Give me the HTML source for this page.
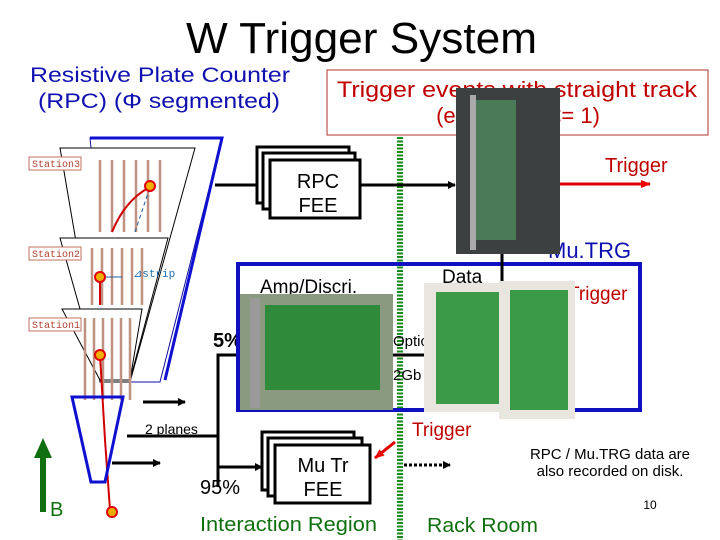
<!DOCTYPE html>
<html><head><meta charset="utf-8"><style>
body{margin:0;background:#fff}
svg{display:block;font-family:"Liberation Sans",sans-serif}
</style></head><body>
<svg width="720" height="540" viewBox="0 0 720 540" xmlns="http://www.w3.org/2000/svg">
<defs>
<marker id="ab" markerWidth="8" markerHeight="8" refX="7" refY="4" orient="auto" markerUnits="userSpaceOnUse"><path d="M0,0 L8,4 L0,8z" fill="#000"/></marker>
<marker id="ar" markerWidth="10" markerHeight="10" refX="9" refY="5" orient="auto" markerUnits="userSpaceOnUse"><path d="M0,1 L10,5 L0,9z" fill="#e00"/></marker>
</defs>
<text x="186" y="53" font-size="44" textLength="351" lengthAdjust="spacingAndGlyphs">W Trigger System</text>
<text x="30" y="82" font-size="21" fill="#1010b0" textLength="260" lengthAdjust="spacingAndGlyphs">Resistive Plate Counter</text>
<text x="38" y="108" font-size="21" fill="#1010b0" textLength="242" lengthAdjust="spacingAndGlyphs">(RPC) (Φ segmented)</text>
<rect x="327" y="70" width="381" height="65" fill="none" stroke="#b03030" stroke-width="1"/>
<text x="337" y="97" font-size="22" fill="#c00000" textLength="360" lengthAdjust="spacingAndGlyphs">Trigger events with straight track</text>
<text x="518" y="123" font-size="22" fill="#c00000" text-anchor="middle">(e.g. Δstrip &lt;= 1)</text>
<line x1="400" y1="137" x2="400" y2="540" stroke="#1a8a1a" stroke-width="6" stroke-dasharray="2,1.5"/>
<polygon points="90,138 222,138 160,382 115,382" fill="none" stroke="#1010a0" stroke-width="1"/>
<path d="M90,138 L222,138 L165,380" fill="none" stroke="#1010d0" stroke-width="3"/>
<polygon points="60,148 195,148 130,382 100,382" fill="#fff" stroke="#000" stroke-width="1"/>
<polygon points="60,238 168,238 130,380 100,380" fill="#fff" stroke="#000" stroke-width="1"/>
<polygon points="62,309 142,309 130,380 100,380" fill="#fff" stroke="#000" stroke-width="1"/>
<g stroke="#c09080" stroke-width="2.5">
<line x1="100" y1="160" x2="100" y2="232"/><line x1="112" y1="160" x2="112" y2="232"/><line x1="124" y1="160" x2="124" y2="232"/><line x1="136" y1="160" x2="136" y2="232"/><line x1="148" y1="160" x2="148" y2="232"/><line x1="160" y1="160" x2="160" y2="232"/>
<line x1="92" y1="248" x2="92" y2="305"/><line x1="102" y1="248" x2="102" y2="305"/><line x1="112" y1="248" x2="112" y2="305"/><line x1="122" y1="248" x2="122" y2="305"/><line x1="132" y1="248" x2="132" y2="305"/><line x1="142" y1="248" x2="142" y2="305"/>
<line x1="85" y1="318" x2="85" y2="400"/><line x1="94" y1="318" x2="94" y2="400"/><line x1="103" y1="318" x2="103" y2="400"/><line x1="112" y1="318" x2="112" y2="400"/><line x1="121" y1="318" x2="121" y2="400"/><line x1="130" y1="318" x2="130" y2="400"/>
</g>
<g font-size="10" fill="#b04030" font-family="Liberation Mono,monospace">
<rect x="29" y="157" width="52" height="13" fill="#fff" stroke="#c07060"/><text x="32" y="167">Station3</text>
<rect x="29" y="247" width="52" height="13" fill="#fff" stroke="#c07060"/><text x="32" y="257">Station2</text>
<rect x="29" y="318" width="52" height="13" fill="#fff" stroke="#c07060"/><text x="32" y="328">Station1</text>
</g>
<path d="M112,232 Q125,200 150,187" stroke="#d00000" stroke-width="2" fill="none"/>
<line x1="135" y1="232" x2="150" y2="187" stroke="#2060a0" stroke-dasharray="4,3"/>
<line x1="100" y1="277" x2="122" y2="277" stroke="#2060a0"/>
<text x="133" y="277" font-size="11" fill="#2070b0" font-family="Liberation Mono,monospace">⊿strip</text>
<line x1="100" y1="277" x2="100" y2="305" stroke="#d00000" stroke-width="2"/>
<path d="M100,355 L105,440 L110,510" stroke="#d00000" stroke-width="2" fill="none"/>
<circle cx="150" cy="186" r="5" fill="#f0b000" stroke="#e00000" stroke-width="2"/>
<circle cx="100" cy="277" r="5" fill="#f0b000" stroke="#e00000" stroke-width="2"/>
<circle cx="100" cy="355" r="5" fill="#f0b000" stroke="#e00000" stroke-width="2"/>
<circle cx="112" cy="512" r="5" fill="#f0b000" stroke="#e00000" stroke-width="2"/>
<polygon points="72,397 123,397 105,482 91,482" fill="none" stroke="#1010d0" stroke-width="3"/>
<line x1="43" y1="512" x2="43" y2="450" stroke="#107010" stroke-width="6"/>
<polygon points="34,458 52,458 43,438" fill="#107010"/>
<text x="50" y="516" font-size="20" fill="#107010">B</text>
<line x1="143" y1="402" x2="185" y2="402" stroke="#000" stroke-width="3" marker-end="url(#ab)"/>
<line x1="112" y1="463" x2="160" y2="463" stroke="#000" stroke-width="3" marker-end="url(#ab)"/>
<line x1="127" y1="436" x2="218" y2="436" stroke="#000" stroke-width="3"/>
<text x="145" y="434" font-size="14">2 planes</text>
<path d="M218,487 L218,355 L240,355" fill="none" stroke="#000" stroke-width="3"/>
<line x1="218" y1="467" x2="262" y2="467" stroke="#000" stroke-width="3" marker-end="url(#ab)"/>
<text x="213" y="347" font-size="20" font-weight="bold">5%</text>
<text x="200" y="494" font-size="20">95%</text>
<line x1="215" y1="185" x2="258" y2="185" stroke="#000" stroke-width="3"/>
<line x1="355" y1="185" x2="455" y2="185" stroke="#000" stroke-width="3" marker-end="url(#ab)"/>
<rect x="257" y="147" width="92" height="56" fill="#fff" stroke="#000" stroke-width="3"/>
<rect x="263" y="153" width="92" height="56" fill="#fff" stroke="#000" stroke-width="3"/>
<rect x="270" y="160" width="90" height="58" fill="#fff" stroke="#000" stroke-width="3"/>
<text x="318" y="188" font-size="20" text-anchor="middle">RPC</text>
<text x="318" y="212" font-size="20" text-anchor="middle">FEE</text>
<rect x="262" y="432" width="92" height="58" fill="#fff" stroke="#000" stroke-width="3"/>
<rect x="268" y="438" width="94" height="58" fill="#fff" stroke="#000" stroke-width="3"/>
<rect x="275" y="445" width="95" height="58" fill="#fff" stroke="#000" stroke-width="3"/>
<text x="323" y="472" font-size="20" text-anchor="middle">Mu Tr</text>
<text x="323" y="496" font-size="20" text-anchor="middle">FEE</text>
<rect x="238" y="264" width="402" height="146" fill="none" stroke="#1010c0" stroke-width="4"/>
<text x="548" y="258" font-size="22" fill="#1010b0">Mu.TRG</text>
<text x="260" y="293" font-size="19">Amp/Discri.</text>
<text x="442" y="283" font-size="19">Data</text>
<text x="568" y="300" font-size="19" fill="#c00000">Trigger</text>
<rect x="240" y="294" width="153" height="116" fill="#8a9a80"/>
<rect x="265" y="305" width="115" height="85" fill="#2f8a3a"/>
<rect x="250" y="298" width="10" height="110" fill="#999"/>
<text x="393" y="346" font-size="15">Optic</text>
<line x1="393" y1="355" x2="424" y2="355" stroke="#000" stroke-width="3"/>
<text x="393" y="380" font-size="15">2Gb</text>
<line x1="502" y1="254" x2="502" y2="283" stroke="#000" stroke-width="3"/>
<rect x="424" y="283" width="87" height="129" fill="#e8e6de"/>
<rect x="436" y="292" width="66" height="112" fill="#3a9a48"/>
<rect x="499" y="281" width="76" height="138" fill="#e8e6de"/>
<rect x="510" y="290" width="58" height="120" fill="#3a9a48"/>
<rect x="456" y="88" width="104" height="166" fill="#3c4040"/>
<rect x="476" y="100" width="40" height="140" fill="#4a7a58"/>
<rect x="470" y="95" width="6" height="155" fill="#aaa"/>
<line x1="560" y1="184" x2="650" y2="184" stroke="#e00000" stroke-width="3" marker-end="url(#ar)"/>
<text x="605" y="172" font-size="20" fill="#c00000">Trigger</text>
<text x="412" y="436" font-size="19" fill="#c00000">Trigger</text>
<line x1="395" y1="442" x2="375" y2="458" stroke="#e00000" stroke-width="3" marker-end="url(#ar)"/>
<line x1="404" y1="465" x2="450" y2="465" stroke="#000" stroke-width="3" stroke-dasharray="3,2" marker-end="url(#ab)"/>
<text x="610" y="459" font-size="15" text-anchor="middle">RPC / Mu.TRG data are</text>
<text x="610" y="476" font-size="15" text-anchor="middle">also recorded on disk.</text>
<text x="650" y="509" font-size="12" text-anchor="middle">10</text>
<text x="200" y="531" font-size="20" fill="#107010" textLength="177" lengthAdjust="spacingAndGlyphs">Interaction Region</text>
<text x="427" y="532" font-size="20" fill="#107010" textLength="111" lengthAdjust="spacingAndGlyphs">Rack Room</text>
</svg>
</body></html>
